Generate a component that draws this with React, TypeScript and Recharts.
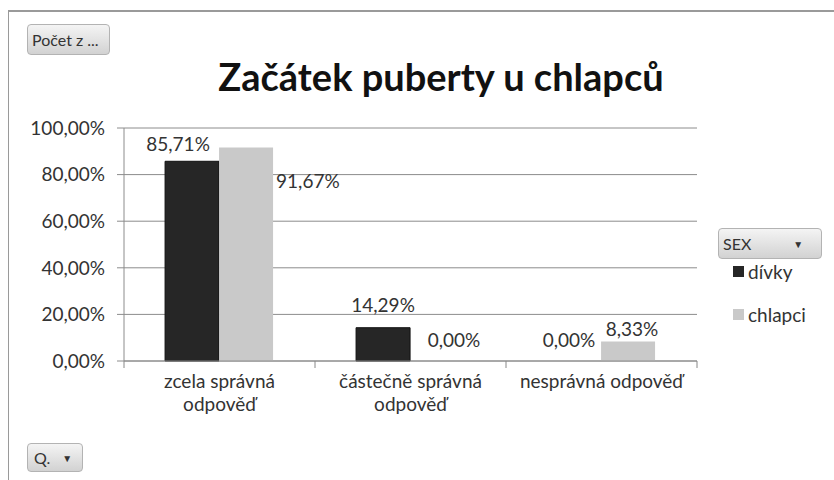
import { Bar, BarChart, CartesianGrid, Rectangle, XAxis, YAxis } from "recharts";

const categories = ["zcela správná odpověď", "částečně správná odpověď", "nesprávná odpověď"];
const divky = [0.8571, 0.1429, 0];
const chlapci = [0.9167, 0, 0.0833];
const yTicks = [0, 0.2, 0.4, 0.6, 0.8, 1];
const seriesNames = { divky: "dívky", chlapci: "chlapci" };

const data = categories.map((name, i) => ({ name, divky: divky[i], chlapci: chlapci[i] }));

const FONT = "Lato, 'Open Sans', sans-serif";
const DARK = "#262626";
const LIGHT = "#c9c9c9";
const BAND = (697 - 124) / 3;

// Excel had some labels dragged around; dx/dy from the bar top
const darkLabelPos = [
  { dx: -14, dy: -10, anchor: "middle", side: "center" },
  { dx: 0, dy: -16, anchor: "middle", side: "center" },
  { dx: -5, dy: -14, anchor: "middle", side: "center" },
];
const lightLabelPos = [
  { dx: 3, dy: 41, anchor: "start", side: "right" },
  { dx: 17, dy: -14, anchor: "middle", side: "center" },
  { dx: 4, dy: -6, anchor: "middle", side: "center" },
];

const pct = (v: number) => (v * 100).toFixed(2).replace(".", ",") + "%";

// the label is drawn inside the shape so 0 % bars still get one
function makeShape(pos: typeof darkLabelPos, stroke?: string) {
  return (props: any) => {
    const { x, y, width, height, index, value } = props;
    const p = pos[index];
    const top = height < 0 ? y + height : y;
    const bx = p.side === "right" ? x + width : x + width / 2;
    const v = Array.isArray(value) ? value[1] - value[0] : value;
    return (
      <g>
        {height !== 0 && (
          <Rectangle x={x} y={y} width={width} height={height} fill={props.fill} stroke={stroke} strokeWidth={1} />
        )}
        <text x={bx + p.dx} y={top + p.dy} textAnchor={p.anchor} fontFamily={FONT} fontSize={19} fill="#333">
          {pct(Number(v))}
        </text>
      </g>
    );
  };
}

function CategoryTick(props: any) {
  const { x, y, payload, index } = props;
  const text: string = payload.value;
  const cut = text.length > 18 ? text.lastIndexOf(" ") : -1;
  const lines = cut > 0 ? [text.slice(0, cut), text.slice(cut + 1)] : [text];
  return (
    <g>
      <line x1={x - BAND / 2} x2={x - BAND / 2} y1={y - 8} y2={y - 1} stroke="#888" />
      {index === categories.length - 1 && (
        <line x1={x + BAND / 2} x2={x + BAND / 2} y1={y - 8} y2={y - 1} stroke="#888" />
      )}
      {lines.map((l, i) => (
        <text key={i} x={x} y={y + 19 + i * 23} textAnchor="middle" fontFamily={FONT} fontSize={19} fill="#333">
          {l}
        </text>
      ))}
    </g>
  );
}

const buttonStyle = {
  position: "absolute" as const,
  boxSizing: "border-box" as const,
  background: "linear-gradient(#f4f4f4, #d2d2d2)",
  border: "1px solid #b3b3b3",
  borderRadius: 4,
  fontFamily: FONT,
  fontSize: 16,
  color: "#333",
  display: "flex",
  alignItems: "center",
};

function LegendBox() {
  const items = [
    { name: seriesNames.divky, color: DARK },
    { name: seriesNames.chlapci, color: LIGHT },
  ];
  return (
    <div style={{ position: "absolute", left: 733, top: 250, fontFamily: FONT, fontSize: 19, color: "#333" }}>
      {items.map((it) => (
        <div key={it.name} style={{ display: "flex", alignItems: "center", height: 43 }}>
          <span style={{ width: 11, height: 11, background: it.color, marginRight: 4 }} />
          {it.name}
        </div>
      ))}
    </div>
  );
}

export default function App() {
  return (
    <div style={{ position: "relative", width: 834, height: 480, background: "#fff", overflow: "hidden" }}>
      <style>{`body{margin:0}`}</style>
      <div
        style={{
          position: "absolute",
          left: 8,
          top: 10,
          width: 830,
          height: 475,
          borderTop: "2px solid #9a9a9a",
          borderLeft: "1px solid #9a9a9a",
        }}
      />
      <BarChart
        width={834}
        height={480}
        data={data}
        margin={{ top: 128, right: 137, bottom: 59, left: 8 }}
        barCategoryGap="21.5%"
        barGap={0}
      >
        <CartesianGrid vertical={false} stroke="#8c8c8c" />
        <XAxis
          dataKey="name"
          height={60}
          axisLine={{ stroke: "#8c8c8c" }}
          tickLine={false}
          tick={<CategoryTick />}
          interval={0}
        />
        <YAxis
          width={116}
          domain={[0, 1]}
          ticks={yTicks}
          tickFormatter={pct}
          axisLine={{ stroke: "#8c8c8c" }}
          tickLine={{ stroke: "#8c8c8c" }}
          tickSize={7}
          tick={{ fill: "#333", fontSize: 19, fontFamily: FONT, dx: -10 }}
        />
        <Bar
          dataKey="divky"
          name={seriesNames.divky}
          fill={DARK}
          isAnimationActive={false}
          shape={makeShape(darkLabelPos, "#111")}
        />
        <Bar
          dataKey="chlapci"
          name={seriesNames.chlapci}
          fill={LIGHT}
          isAnimationActive={false}
          shape={makeShape(lightLabelPos)}
        />
      </BarChart>
      <LegendBox />
      <div
        style={{
          position: "absolute",
          left: 0,
          top: 53,
          width: 882,
          textAlign: "center",
          fontFamily: FONT,
          fontWeight: 700,
          fontSize: 38,
          color: "#111",
        }}
      >
        Začátek puberty u chlapců
      </div>
      <div style={{ ...buttonStyle, left: 27, top: 24, width: 83, height: 31, paddingLeft: 4 }}>Počet z ...</div>
      <div style={{ ...buttonStyle, left: 27, top: 443, width: 56, height: 29, paddingLeft: 6 }}>
        Q.<span style={{ fontSize: 10, marginLeft: 12 }}>▼</span>
      </div>
      <div style={{ ...buttonStyle, left: 718, top: 228, width: 104, height: 31, paddingLeft: 4 }}>
        SEX<span style={{ fontSize: 10, marginLeft: 42 }}>▼</span>
      </div>
    </div>
  );
}
